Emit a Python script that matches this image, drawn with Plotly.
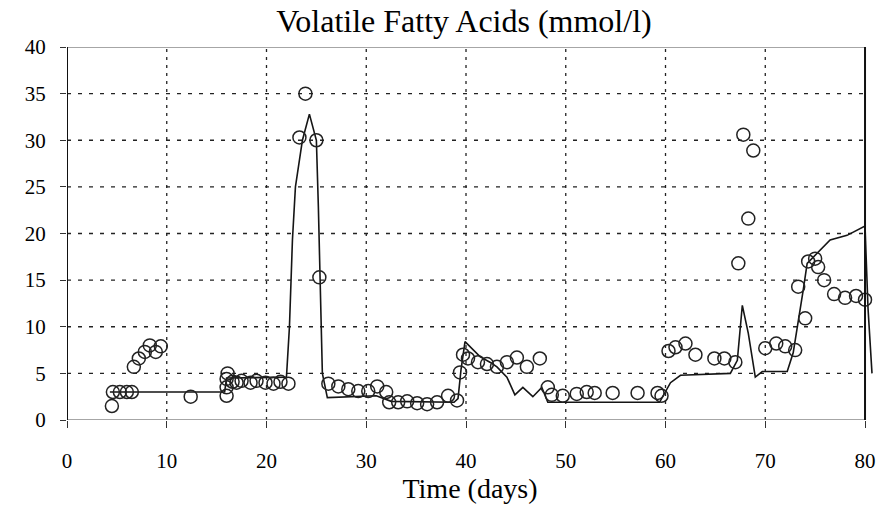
import plotly.graph_objects as go

# ---- data ----
obs_day = [4.5, 4.6, 5.3, 6.0, 6.5, 6.7, 7.2, 7.8, 8.3, 8.9, 9.4, 12.4,
           16.0, 16.0, 16.0, 16.1, 16.6, 17.0, 17.5, 18.4, 19.0, 19.9, 20.7, 21.4, 22.2,
           23.3, 23.9, 25.0, 25.3, 26.2, 27.2, 28.2, 29.2, 30.2, 31.1, 32.0, 32.3,
           33.2, 34.1, 35.1, 36.1, 37.1, 38.2, 39.1, 39.4, 39.7, 40.2, 41.2, 42.1,
           43.1, 44.1, 45.1, 46.1, 47.4, 48.2, 48.6, 49.7, 51.1, 52.1, 52.9, 54.7,
           57.2, 59.2, 59.6, 60.3, 61.0, 62.0, 63.0, 64.9, 65.9, 67.0, 67.3, 67.8,
           68.3, 68.8, 70.0, 71.1, 72.0, 73.0, 73.3, 74.0, 74.3, 75.0, 75.3, 75.9,
           76.9, 78.0, 79.1, 80.0]
obs_vfa = [1.5, 3.0, 3.0, 3.0, 3.0, 5.7, 6.6, 7.3, 8.0, 7.3, 7.9, 2.5,
           2.6, 3.5, 4.4, 5.0, 4.1, 4.0, 4.2, 4.0, 4.2, 4.0, 3.9, 4.1, 3.9,
           30.3, 35.0, 30.0, 15.3, 3.9, 3.6, 3.3, 3.1, 3.1, 3.6, 3.0, 1.9,
           1.9, 2.0, 1.8, 1.7, 1.9, 2.6, 2.1, 5.1, 7.0, 6.6, 6.2, 6.0,
           5.7, 6.2, 6.7, 5.7, 6.6, 3.5, 2.7, 2.6, 2.8, 3.0, 2.9, 2.9,
           2.9, 2.9, 2.6, 7.4, 7.8, 8.2, 7.0, 6.6, 6.6, 6.2, 16.8, 30.6,
           21.6, 28.9, 7.7, 8.2, 7.9, 7.5, 14.3, 10.9, 17.0, 17.3, 16.4, 15.0,
           13.5, 13.1, 13.3, 12.9]

sim_day = [4.3, 15.8, 16.0, 22.0, 22.3, 22.6, 22.9, 23.6, 24.3, 25.0, 25.2, 25.4,
           25.6, 26.1, 31.0, 32.5, 38.8, 39.2, 39.5, 39.9, 40.6, 41.4, 42.4, 43.1,
           44.1, 44.9, 45.7, 46.7, 47.6, 48.2, 59.4, 60.0, 60.5, 61.5, 66.5, 67.2,
           67.7, 68.3, 69.0, 69.7, 72.2, 72.8, 73.3, 73.8, 74.2, 75.5, 76.5, 78.2,
           79.7, 80.0, 80.3, 80.7]
sim_vfa = [3.0, 3.0, 4.5, 4.6, 10.0, 19.3, 25.0, 30.0, 32.8, 30.0, 22.8, 12.1,
           5.0, 2.4, 2.6, 2.0, 1.9, 2.3, 5.4, 8.4, 7.7, 6.8, 6.2, 5.7,
           4.6, 2.7, 3.5, 2.5, 3.5, 1.9, 1.9, 3.0, 4.0, 4.8, 5.0, 6.4,
           12.3, 9.3, 4.6, 5.2, 5.2, 7.2, 10.4, 13.9, 16.8, 18.2, 19.3, 19.8,
           20.7, 20.8, 12.0, 5.0]

x_ticks = [0, 10, 20, 30, 40, 50, 60, 70, 80]
y_ticks = [0, 5, 10, 15, 20, 25, 30, 35, 40]

FONT = "Liberation Serif"

fig = go.Figure()
fig.add_trace(go.Scatter(x=sim_day, y=sim_vfa, mode="lines",
                         line=dict(color="#151515", width=1.6), showlegend=False))
fig.add_trace(go.Scatter(x=obs_day, y=obs_vfa, mode="markers",
                         marker=dict(symbol="circle-open", size=13, color="#222",
                                     line=dict(width=1.5, color="#222")),
                         showlegend=False))

shapes = []
xmax, ymax = x_ticks[-1], y_ticks[-1]
for xv in x_ticks[1:-1]:
    shapes.append(dict(type="line", xref="x", yref="y", x0=xv, x1=xv, y0=0, y1=ymax,
                       line=dict(color="#222", width=1.3, dash="3px,5px"), layer="below"))
for yv in y_ticks[1:-1]:
    shapes.append(dict(type="line", xref="x", yref="y", x0=0, x1=xmax, y0=yv, y1=yv,
                       line=dict(color="#222", width=1.3, dash="4px,7px"), layer="below"))
# frame
shapes.append(dict(type="line", xref="x", yref="y", x0=0, x1=xmax, y0=ymax, y1=ymax,
                   line=dict(color="#888", width=1.5)))
shapes.append(dict(type="line", xref="x", yref="y", x0=0, x1=xmax, y0=0, y1=0,
                   line=dict(color="#888", width=1.5)))
shapes.append(dict(type="line", xref="x", yref="y", x0=0, x1=0, y0=0, y1=ymax,
                   line=dict(color="#111", width=2)))
shapes.append(dict(type="line", xref="x", yref="y", x0=xmax, x1=xmax, y0=0, y1=ymax,
                   line=dict(color="#111", width=2)))

fig.update_layout(
    width=894, height=505,
    margin=dict(l=67, r=21, t=47, b=85, autoexpand=False),
    paper_bgcolor="white", plot_bgcolor="white",
    shapes=shapes,
    title=dict(text="Volatile Fatty Acids (mmol/l)", x=464/894, xref="container",
               xanchor="center", y=1-21/505, yref="container", yanchor="middle",
               font=dict(family=FONT, size=32, color="black")),
    xaxis=dict(range=[0, 80.8], tickvals=x_ticks, ticks="outside", ticklen=7,
               tickcolor="#333", tickwidth=1, showgrid=False, zeroline=False,
               showline=False, ticklabelstandoff=15, automargin=False,
               tickfont=dict(family=FONT, size=21, color="black"),
               title=dict(text="Time (days)", standoff=2,
                          font=dict(family=FONT, size=28, color="black"))),
    yaxis=dict(range=[0, 40], tickvals=y_ticks, ticks="outside", ticklen=6,
               tickcolor="#333", tickwidth=1, showgrid=False, zeroline=False,
               showline=False, ticklabelstandoff=10, automargin=False,
               tickfont=dict(family=FONT, size=21, color="black")),
)

fig.write_html("out.html")
